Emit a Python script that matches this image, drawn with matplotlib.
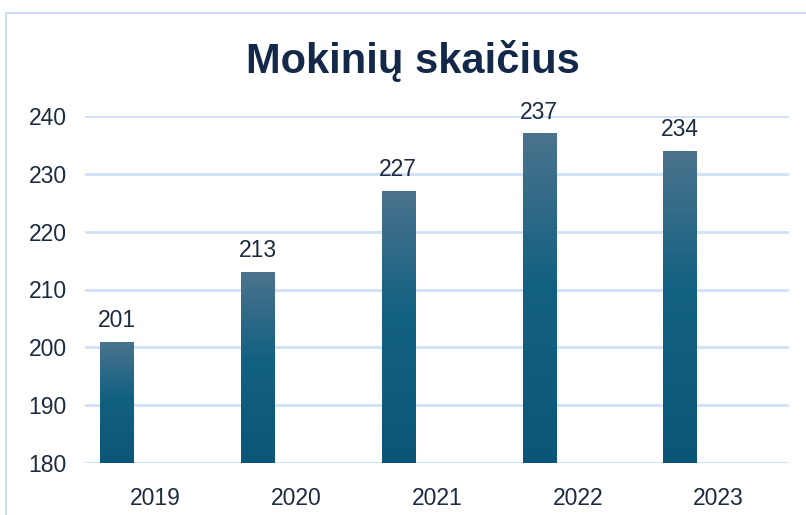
import numpy as np
import matplotlib
matplotlib.use("Agg")
import matplotlib.pyplot as plt
from matplotlib.patches import Rectangle
from matplotlib.colors import LinearSegmentedColormap

years = ["2019", "2020", "2021", "2022", "2023"]
students = [201, 213, 227, 237, 234]
title = "Mokinių skaičius"
yticks = [180, 190, 200, 210, 220, 230, 240]

plt.rcParams['font.family'] = ['Liberation Sans', 'DejaVu Sans']
W, H = 806, 515
fig = plt.figure(figsize=(W / 100, H / 100), dpi=100)
fig.patch.set_facecolor("white")

# outer border (chart area)
fig.patches.append(Rectangle((5.5 / W, -0.1), 2.0, 1.1 - 12.5 / H, transform=fig.transFigure,
                             fill=False, edgecolor="#c6d9f1", linewidth=1.3))

ax = fig.add_axes([85 / W, 52 / H, (789 - 85) / W, (463 - 116) / H])
x = np.arange(len(years))
offset = -0.275
width = 0.235
bars = ax.bar(x + offset, [s - 180 for s in students], bottom=180, width=width,
              color="none", edgecolor="none", zorder=3)

cmap = LinearSegmentedColormap.from_list(
    "g", [(0.0, "#4b738d"), (0.45, "#136182"), (1.0, "#0b5678")])
grad = np.linspace(0, 1, 256).reshape(-1, 1)
for b in bars:
    x0, y0 = b.get_x(), b.get_y()
    w, h = b.get_width(), b.get_height()
    im = ax.imshow(grad, cmap=cmap, aspect="auto", extent=(x0, x0 + w, y0, y0 + h),
                   origin="upper", zorder=3, interpolation="bilinear")
    im.set_clip_path(b)

for xi, s in zip(x, students):
    ax.annotate(str(s), (xi + offset, s), xytext=(0, 7), textcoords="offset points",
                ha="center", va="bottom", fontsize=16.5, color="#1c2b3f", clip_on=False)

ax.set_xlim(-0.5, len(years) - 0.5)
ax.set_ylim(180, 240)
ax.set_yticks(yticks)
ax.set_xticks(x)
ax.set_xticklabels(years)
ax.grid(axis="y", color="#d3e2f4", linewidth=2.2, zorder=0)
ax.set_axisbelow(True)
for sp in ax.spines.values():
    sp.set_visible(False)
ax.tick_params(axis="both", length=0, labelsize=16.5, labelcolor="#1c2b3f")
ax.tick_params(axis="x", pad=17)
ax.tick_params(axis="y", pad=13)
ax.set_facecolor("none")

fig.text(413 / W, 1 - 61 / H, title, ha="center", va="center", fontsize=30,
         fontweight="bold", color="#14294a")

fig.savefig("out.png", dpi=100)
